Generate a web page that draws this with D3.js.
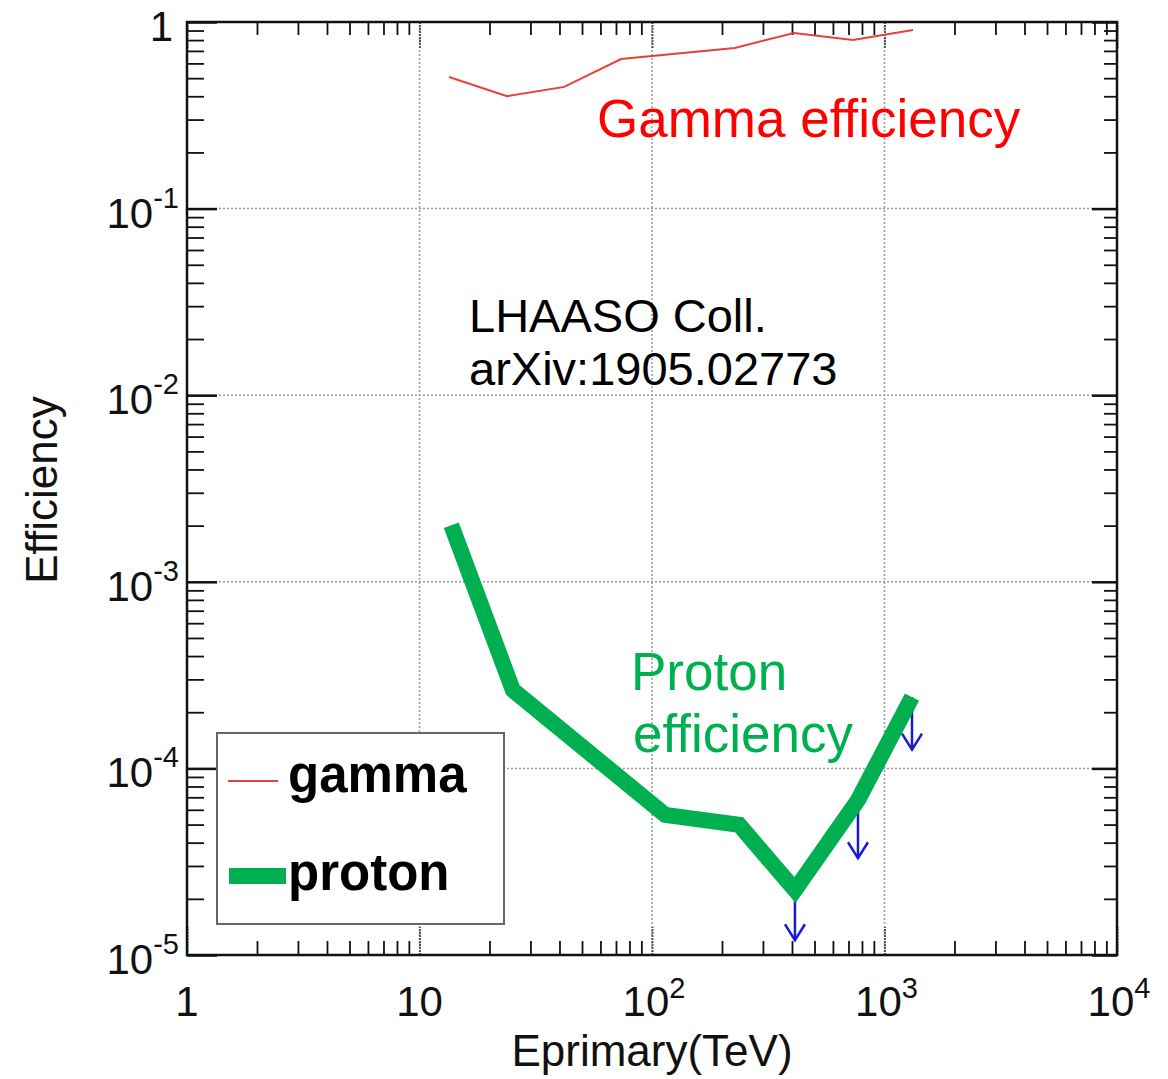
<!DOCTYPE html>
<html><head><meta charset="utf-8">
<script src="https://cdn.jsdelivr.net/npm/d3@7"></script>
<style>body{margin:0;background:#fff}svg{display:block}text{font-family:"Liberation Sans",Arial,Helvetica,sans-serif}</style>
</head><body>
<svg id="c" width="1168" height="1079"></svg>
<script>
// ---- data ----
const gammaE   = [13.4, 23.8, 41.9, 73.6, 227, 408, 732, 1326];
const gammaEff = [0.507, 0.40, 0.449, 0.633, 0.726, 0.873, 0.80, 0.906];
const protonE   = [13.7, 25.2, 114, 237, 412, 769, 1313];
const protonEff = [2.01e-3, 2.63e-4, 5.63e-5, 4.98e-5, 2.23e-5, 6.77e-5, 2.41e-4];
const limitE    = [412, 769, 1313];
const limitFrom = [2.23e-5, 6.77e-5, 2.41e-4];
const limitTo   = [1.2e-5, 3.3e-5, 1.26e-4];
const xTickVals = [1, 10, 100, 1000, 10000];
const xTickBase = ["1", "10", "10", "10", "10"];
const xTickExp  = ["", "", "2", "3", "4"];
const yTickVals = [1, 0.1, 0.01, 0.001, 1e-4, 1e-5];
const yTickBase = ["1", "10", "10", "10", "10", "10"];
const yTickExp  = ["", "-1", "-2", "-3", "-4", "-5"];

const svg = d3.select("#c");
const L = 187, R = 1117, T = 22, B = 955;
const x = d3.scaleLog().domain([1, 1e4]).range([L, R]);
const y = d3.scaleLog().domain([1e-5, 1]).range([B, T]);

const minorX = [], minorY = [];
for (let d = 1; d < 1e4; d *= 10) for (let k = 2; k <= 9; k++) minorX.push(d * k);
for (let d = 1e-5; d < 0.99; d *= 10) for (let k = 2; k <= 9; k++) minorY.push(d * k);

// grid
const g = svg.append("g");
g.selectAll(".gx").data(xTickVals.slice(1, -1)).join("line")
  .attr("x1", d => x(d)).attr("x2", d => x(d)).attr("y1", T).attr("y2", B)
  .attr("stroke", "#9a9a9a").attr("stroke-width", 1.5).attr("stroke-dasharray", "2,2");
g.selectAll(".gy").data(yTickVals.slice(1, -1)).join("line")
  .attr("y1", d => y(d)).attr("y2", d => y(d)).attr("x1", L).attr("x2", R)
  .attr("stroke", "#9a9a9a").attr("stroke-width", 1.5).attr("stroke-dasharray", "2,2");

// minor ticks via axes
function styleAxis(sel) {
  sel.select(".domain").remove();
  sel.selectAll("line").attr("stroke", "#111").attr("stroke-width", 1.8);
}
svg.append("g").attr("transform", `translate(0,${B})`)
  .call(d3.axisBottom(x).tickValues(minorX).tickSize(-14).tickFormat("")).call(styleAxis);
svg.append("g").attr("transform", `translate(0,${T})`)
  .call(d3.axisTop(x).tickValues(minorX).tickSize(-13).tickFormat("")).call(styleAxis);
svg.append("g").attr("transform", `translate(${L},0)`)
  .call(d3.axisLeft(y).tickValues(minorY).tickSize(-17).tickFormat("")).call(styleAxis);
svg.append("g").attr("transform", `translate(${R},0)`)
  .call(d3.axisRight(y).tickValues(minorY).tickSize(-13).tickFormat("")).call(styleAxis);
// major ticks
svg.append("g").attr("transform", `translate(${L},0)`)
  .call(d3.axisLeft(y).tickValues(yTickVals).tickSize(-30).tickFormat("")).call(styleAxis)
  .selectAll("line").attr("stroke-width", 2.5);
svg.append("g").attr("transform", `translate(${R},0)`)
  .call(d3.axisRight(y).tickValues(yTickVals).tickSize(-25).tickFormat("")).call(styleAxis)
  .selectAll("line").attr("stroke-width", 2.5);
svg.append("g").attr("transform", `translate(0,${B})`)
  .call(d3.axisBottom(x).tickValues(xTickVals).tickSize(-28).tickFormat("")).call(styleAxis)
  .selectAll("line").attr("stroke", "#555").attr("stroke-width", 2).attr("stroke-dasharray", "2,1");
svg.append("g").attr("transform", `translate(0,${T})`)
  .call(d3.axisTop(x).tickValues(xTickVals).tickSize(-26).tickFormat("")).call(styleAxis)
  .selectAll("line").attr("stroke", "#555").attr("stroke-width", 2).attr("stroke-dasharray", "2,1");

// frame
svg.append("rect").attr("x", L).attr("y", T).attr("width", R - L).attr("height", B - T)
  .attr("fill", "none").attr("stroke", "#111").attr("stroke-width", 2.5);

// tick labels
const xl = svg.append("g").selectAll("text").data(xTickVals).join("text")
  .attr("y", 1016).attr("font-size", 42).attr("text-anchor", "middle").attr("fill", "#111");
xl.append("tspan").text((d, i) => xTickBase[i]);
xl.append("tspan").attr("dy", -18).attr("font-size", 29).text((d, i) => xTickExp[i]);
xl.attr("x", (d, i) => x(d) + (xTickExp[i] ? 2 : 0));

const yl = svg.append("g").selectAll("text").data(yTickVals).join("text")
  .attr("x", 179).attr("y", d => y(d) + 19).attr("font-size", 42).attr("text-anchor", "end").attr("fill", "#111");
yl.append("tspan").text((d, i) => yTickBase[i]);
yl.append("tspan").attr("dy", -20).attr("font-size", 29).text((d, i) => yTickExp[i]);
yl.filter((d, i) => i === 0).attr("x", 173);

// axis titles
svg.append("text").attr("x", 652).attr("y", 1066).attr("text-anchor", "middle")
  .attr("font-size", 44).attr("fill", "#111").text("Eprimary(TeV)");
svg.append("text").attr("transform", "translate(57,490) rotate(-90)").attr("text-anchor", "middle")
  .attr("font-size", 44).attr("fill", "#111").text("Efficiency");

// gamma line
const line = d3.line().x(d => x(d[0])).y(d => y(d[1]));
svg.append("path").datum(gammaE.map((e, i) => [e, gammaEff[i]])).attr("d", line)
  .attr("fill", "none").attr("stroke", "#e8403a").attr("stroke-width", 2);

// upper-limit arrows
const ar = svg.append("g").attr("stroke", "#1a1ad6").attr("stroke-width", 2.5).attr("fill", "none");
limitE.forEach((e, i) => {
  const px = x(e), y0 = y(limitFrom[i]), y1 = y(limitTo[i]);
  ar.append("line").attr("x1", px).attr("x2", px).attr("y1", y0).attr("y2", y1);
  ar.append("polyline").attr("points", `${px - 10},${y1 - 16} ${px},${y1} ${px + 10},${y1 - 16}`);
});

// proton line
svg.append("path").datum(protonE.map((e, i) => [e, protonEff[i]])).attr("d", line)
  .attr("fill", "none").attr("stroke", "#00b050").attr("stroke-width", 16)
  .attr("stroke-linejoin", "miter").attr("stroke-linecap", "butt");

// annotations
svg.append("text").attr("x", 597).attr("y", 137).attr("font-size", 53).attr("fill", "#ff0000").text("Gamma efficiency");
svg.append("text").attr("x", 469).attr("y", 332).attr("font-size", 47).attr("fill", "#000").text("LHAASO Coll.");
svg.append("text").attr("x", 469).attr("y", 385).attr("font-size", 47).attr("fill", "#000").text("arXiv:1905.02773");
svg.append("text").attr("x", 631).attr("y", 690).attr("font-size", 53).attr("fill", "#00b050").text("Proton");
svg.append("text").attr("x", 633).attr("y", 752).attr("font-size", 53).attr("fill", "#00b050").text("efficiency");

// legend
const lg = svg.append("g");
lg.append("rect").attr("x", 217).attr("y", 733).attr("width", 287).attr("height", 191)
  .attr("fill", "#fff").attr("stroke", "#666").attr("stroke-width", 2);
lg.append("line").attr("x1", 228).attr("x2", 278).attr("y1", 781).attr("y2", 781)
  .attr("stroke", "#e8403a").attr("stroke-width", 2);
lg.append("text").attr("x", 288).attr("y", 792).attr("font-size", 51).attr("font-weight", "bold").attr("fill", "#000").text("gamma");
lg.append("line").attr("x1", 229).attr("x2", 286).attr("y1", 876).attr("y2", 876)
  .attr("stroke", "#00b050").attr("stroke-width", 16);
lg.append("text").attr("x", 288).attr("y", 890).attr("font-size", 51).attr("font-weight", "bold").attr("fill", "#000").text("proton");
</script>
</body></html>
